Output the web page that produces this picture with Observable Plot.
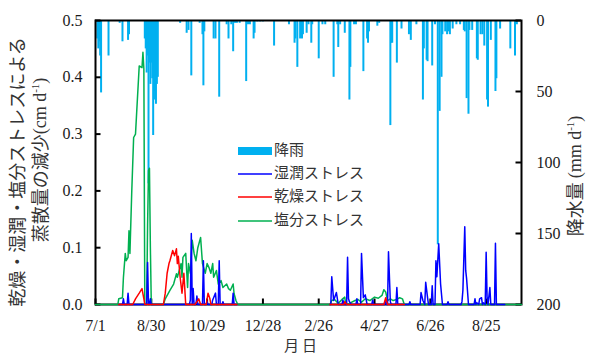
<!DOCTYPE html>
<html><head><meta charset="utf-8">
<script src="https://cdn.jsdelivr.net/npm/d3@7"></script>
<script src="https://cdn.jsdelivr.net/npm/@observablehq/plot@0.6"></script>
<style>body{margin:0;background:#fff}</style>
</head><body><div id="chart"></div>
<script>
// x = day since 7/1
const tickDays = [0, 60, 120, 180, 240, 300, 360, 420];
const tickLabels = ["7/1", "8/30", "10/29", "12/28", "2/26", "4/27", "6/26", "8/25"];
const stressTicks = [0, 0.1, 0.2, 0.3, 0.4, 0.5];
const rainTicks = [0, 50, 100, 150, 200];

// rainfall [day, mm]
const rainfall = [
 [2,13],[3,20],[4,15],[5,25],[6,51],[14,25],[26,2],[29,15],[35,14],[36,10],
 [53,13],[54,20],[55,37],[56,25],[57,115],[58,30],[59,45],[60,30],[61,41],[62,81],[63,50],[64,56],[65,59],[66,45],[67,40],
 [91,2],[98,9],[100,7],[103,39],[112,2],[115,10],[116,46],[117,8],[127,13],[129,13],[133,54],[141,3],[143,13],[146,3],[148,22],
 [150,2],[152,2],[155,2],[162,43],[164,3],[166,3],[170,13],[171,9],[174,1],[177,1],[180,1],[192,18],[208,3],[214,16],[215,13],
 [217,33],[220,13],[222,13],[223,10],[227,9],[229,3],[232,16],[233,3],[240,27],[244,3],[247,3],[256,40],[260,3],[261,19],[263,3],
 [268,9],[273,56],[274,33],[278,3],[280,3],[288,36],[292,13],[293,16],[294,8],[303,4],[305,2],[317,74],[318,16],[319,16],[324,30],
 [329,6],[337,10],[339,14],[345,3],[352,56],[353,20],[356,28],[357,29],[362,32],[365,3],[368,158],[370,64],[372,40],[373,10],
 [376,8],[378,10],[380,8],[381,10],[384,6],[388,3],[392,3],[396,7],[397,8],[399,55],[401,66],[402,7],[405,7],[410,27],[411,28],
 [414,10],[416,10],[418,18],[421,56],[422,61],[425,14],[430,50],[431,41],[435,6],[446,20],[451,25],[453,3]
];

// wet stress [day, cm/d]
const wetStress = [
 [25,0],[29,0],[30,0.01],[31,0],[34,0],[35,0.02],[36,0],[55,0],[56,0.074],[57,0],[58,0],[59,0.01],[60,0],
 [101,0],[102,0.008],[103,0.125],[104,0],[105,0.028],[106,0],[108,0],[109,0.015],[110,0],[115,0],[116,0.077],[117,0],
 [119,0],[120,0.005],[121,0],[125,0],[126,0.008],[129,0.02],[130,0],[132,0],[133,0.077],[134,0],[136,0],[137,0.005],[138,0],
 [147,0],[148,0.02],[149,0],[152,0],[200,NaN],
 [252,0],[253,0],[254,0.049],[256,0.007],[259,0.021],[261,0],[265,0],[266,0.008],[267,0],[270,0],[271,0.083],[272,0.01],
 [273,0.005],[275,0],[280,0],[281,0.01],[282,0],[285,0],[286,0.09],[288,0.012],[290,0.017],[292,0],[297,0],[298,0.008],
 [299,0],[311,0],[312,0.005],[313,0],[314,0],[315,0.093],[317,0.005],[318,0],[323,0],[324,0.03],[325,0],[337,0],[338,0.005],
 [339,0],[349,0],[350,0.021],[352,0.007],[354,0],[355,0.039],[357,0.012],[358,0],[361,0],[362,0.033],[363,0],[365,0],
 [366,0.077],[367,0.049],[369,0.107],[371,0.036],[373,0],[378,0],[379,0.005],[380,0],[393,0],[394,0.005],[395,0.025],
 [397,0.137],[398,0.06],[399,0.045],[401,0],[407,0],[408,0.01],[409,0],[410,0.003],[412,0],[413,0.01],[415,0.012],[416,0],
 [417,0.003],[419,0],[420,0.092],[421,0.012],[422,0],[424,0.03],[425,0],[429,0],[430,0.108],[431,0],[440,0]
];

// dry stress [day, cm/d]
const dryStress = [
 [25,0],[40,0],[43,0.01],[47,0.02],[50,0.028],[52,0.01],[53,0],[73,0],[75,0.02],[77,0.055],[79,0.072],[80,0.077],
 [83,0.095],[85,0.086],[87,0.098],[88,0.072],[89,0.085],[91,0.048],[93,0.02],[95,0.055],[97,0],[107,0],[111,0.01],[113,0],
 [119,0],[121,0.02],[123,0.01],[124,0],[152,0],[200,NaN],
 [252,0],[267,0],[268,0.005],[270,0],[310,0],[312,0.012],[314,0],[332,0]
];

// salt stress [day, cm/d]
const saltStress = [
 [0,0],[24,0],[25,0.01],[29,0.012],[30,0.047],[32,0.09],[33,0.077],[35,0.083],[36,0.13],[37,0.09],[39,0.2],[41,0.294],
 [43,0.30],[44,0.33],[47,0.42],[50,0.417],[51,0.444],[52,0.415],[53,0],[55,0],[56,0.14],[57,0.236],[58,0.24],[59,0.1],[60,0],
 [73,0],[75,0.01],[80,0.025],[84,0.036],[87,0.054],[88,0.048],[90,0.06],[92,0.072],[93,0.048],[94,0.083],[97,0.09],[99,0.03],
 [100,0.072],[102,0.055],[104,0.113],[106,0.09],[108,0.077],[110,0.1],[113,0.118],[115,0.072],[118,0.055],[120,0.072],
 [122,0.065],[124,0.055],[126,0.072],[127,0.048],[130,0.06],[132,0.036],[135,0.042],[137,0.03],[141,0.036],[143,0.028],
 [145,0.025],[148,0.036],[149,0.019],[151,0.007],[153,0],
 [252,0],[254,0.007],[257,0.009],[261,0.002],[265,0.009],[268,0.013],[269,0],[273,0.002],[279,0.007],[282,0.009],[286,0.004],
 [290,0.01],[295,0.007],[300,0.013],[304,0.011],[308,0.016],[310,0.026],[312,0.022],[314,0.007],[317,0.01],[320,0.007],
 [324,0.009],[327,0.012],[330,0.01],[332,0],[458,0]
];

const C_RAIN = "#00B0F0", C_WET = "#0000FF", C_DRY = "#FF0000", C_SALT = "#00B050";
const serif = "'Liberation Serif', 'Times New Roman', serif";
const cjk = "'Noto Sans CJK JP', sans-serif";
const X0 = 0, X1 = 458;
const tickLenX = 5.5 * (X1 - X0) / 426; // ~5.5px in day units
const tickLenY = 5.5 * 0.5 / 284;       // ~5.5px in stress units

const chart = Plot.plot({
  width: 594, height: 358,
  marginLeft: 95, marginRight: 73, marginTop: 20, marginBottom: 54,
  style: {fontFamily: serif, fontSize: "16px", color: "#1a1a1a", background: "white"},
  x: {domain: [X0, X1], label: null},
  y: {domain: [0, 0.5], label: null},
  marks: [
    Plot.ruleX(rainfall, {x: d => d[0], y1: 0.5, y2: d => 0.5 - d[1] / 400, stroke: C_RAIN, strokeWidth: 2}),
    Plot.frame({stroke: "black", strokeWidth: 2}),
    // inward tick marks
    Plot.ruleX(tickDays, {x: d => d, y1: 0, y2: tickLenY, stroke: "black", strokeWidth: 2}),
    Plot.ruleY(stressTicks, {y: d => d, x1: X0, x2: X0 + tickLenX, stroke: "black", strokeWidth: 2}),
    Plot.ruleY(rainTicks, {y: r => 0.5 - r / 400, x1: X1 - tickLenX, x2: X1, stroke: "black", strokeWidth: 2}),
    Plot.line(saltStress, {x: d => d[0], y: d => d[1], stroke: C_SALT, strokeWidth: 1.5}),
    Plot.line(wetStress, {x: d => d[0], y: d => d[1], stroke: C_WET, strokeWidth: 1.5}),
    Plot.line(dryStress, {x: d => d[0], y: d => d[1], stroke: C_DRY, strokeWidth: 1.5}),
    Plot.axisX({ticks: tickDays, tickFormat: d => tickLabels[tickDays.indexOf(d)], tickSize: 0, tickPadding: 15, label: null}),
    Plot.axisY({ticks: stressTicks, tickFormat: d3.format(".1f"), tickSize: 0, tickPadding: 13, label: null}),
    Plot.axisY({anchor: "right", ticks: rainTicks.map(r => 0.5 - r / 400),
      tickFormat: d => String(Math.round((0.5 - d) * 400)), tickSize: 0, tickPadding: 15, label: null})
  ]
});
document.getElementById("chart").appendChild(chart);

const svg = d3.select(chart);
// left axis title (two lines)
const lt = svg.append("g").attr("fill", "#333").attr("font-size", 18);
lt.append("text").attr("transform", "translate(19,172) rotate(-90)").attr("text-anchor", "middle")
  .attr("dominant-baseline", "middle").attr("font-family", cjk).text("乾燥・湿潤・塩分ストレスによる");
const l2 = lt.append("text").attr("transform", "translate(42,160) rotate(-90)").attr("text-anchor", "middle")
  .attr("dominant-baseline", "middle").attr("font-family", cjk);
l2.append("tspan").text("蒸散量の減少");
l2.append("tspan").attr("font-family", serif).text("(cm d");
l2.append("tspan").attr("font-family", serif).attr("font-size", 11).attr("baseline-shift", "super").text("-1");
l2.append("tspan").attr("font-family", serif).text(")");

// right axis title
const rt = svg.append("text").attr("fill", "#333").attr("font-size", 18)
  .attr("transform", "translate(577,176) rotate(-90)").attr("text-anchor", "middle")
  .attr("dominant-baseline", "middle").attr("font-family", cjk);
rt.append("tspan").text("降水量 ");
rt.append("tspan").attr("font-family", serif).text("(mm d");
rt.append("tspan").attr("font-family", serif).attr("font-size", 11).attr("baseline-shift", "super").text("-1");
rt.append("tspan").attr("font-family", serif).text(")");

// x axis title
const xt = svg.append("text").attr("y", 351).attr("fill", "#333")
  .attr("font-size", 15).attr("font-family", cjk).attr("text-anchor", "start");
xt.append("tspan").attr("x", 284).text("月");
xt.append("tspan").attr("x", 302).text("日");

// legend
const lg = svg.append("g").attr("font-family", cjk).attr("font-size", 15).attr("fill", "#333");
const items = [
  {label: "降雨", color: C_RAIN, rect: true, y: 151},
  {label: "湿潤ストレス", color: C_WET, y: 174},
  {label: "乾燥ストレス", color: C_DRY, y: 197},
  {label: "塩分ストレス", color: C_SALT, y: 221}
];
for (const it of items) {
  if (it.rect) lg.append("rect").attr("x", 238).attr("y", it.y - 4).attr("width", 34).attr("height", 8).attr("fill", it.color);
  else lg.append("line").attr("x1", 238).attr("x2", 272).attr("y1", it.y).attr("y2", it.y).attr("stroke", it.color).attr("stroke-width", 1.5);
  lg.append("text").attr("x", 274).attr("y", it.y).attr("text-anchor", "start").attr("dominant-baseline", "middle").text(it.label);
}
</script>
</body></html>
